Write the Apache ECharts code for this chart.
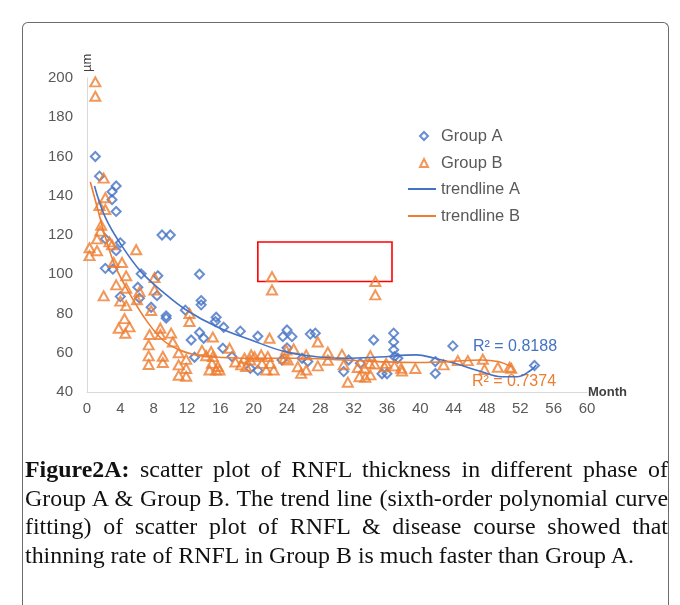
<!DOCTYPE html>
<html lang="en">
<head>
    <meta charset="UTF-8">
    <title>RNFL scatter</title>
    <style>
        html, body { margin: 0; padding: 0; background: #fff; }
        #frame { position: absolute; left: 22px; top: 22px; width: 645px; height: 600px;
                 border: 1px solid #6b6b6b; border-bottom: none; border-radius: 6px 6px 0 0; }
        #chart { position: absolute; left: 0; top: 0; width: 680px; height: 605px; }
        #caption { position: absolute; left: 25px; top: 455px; width: 643px;
                   font-family: "Liberation Serif", "DejaVu Serif", serif; font-size: 23.9px;
                   line-height: 28.7px; color: #111; }
        #caption .j { text-align: justify; text-align-last: justify; }
    </style>
</head>
<body>
<div id="frame"></div>
<div id="chart"></div>
<div id="caption">
    <div class="j"><b>Figure2A:</b> scatter plot of RNFL thickness in different phase of</div>
    <div class="j">Group A &amp; Group B. The trend line (sixth-order polynomial curve</div>
    <div class="j">fitting) of scatter plot of RNFL &amp; disease course showed that</div>
    <div>thinning rate of RNFL in Group B is much faster than Group A.</div>
</div>
<script src="https://cdn.jsdelivr.net/npm/echarts@6/dist/echarts.min.js"></script>
<script>
    // month, thickness (µm)
    var groupA = [
        [1,160],[1.5,150],[3.5,145],[3,142],[3,138],[3.5,132],[4,116],[9,120],[10,120],
        [2.2,118],[3.5,112],[2.2,103],[3.1,102.6],[6.5,100.2],[8.5,99.2],[6.1,93.4],[4,88.6],
        [6.3,87.8],[8.4,89.1],[7.7,83.2],[9.5,78.8],[9.5,77.6],[11.8,81.7],[13.5,100],
        [13.7,86.6],[13.7,84.4],[12.5,66.5],[13.5,70.3],[14,67.4],[15.5,78.1],[15.4,75.9],
        [16.4,73],[16.3,62.3],[17.4,58],[18.4,71],[12.9,57.7],[20.5,68.4],[19.6,52],[20.5,51],
        [23.5,68.2],[24,71.6],[24.6,68.2],[24,62.5],[23.4,56.3],[26.8,69.5],[27.4,70],
        [25.8,57.2],[26.5,55.5],[30.8,50.4],[31.4,56.3],[32.8,54.6],[34.4,66.5],[35.4,49.3],
        [36,49.3],[36.8,70],[36.8,65.5],[36.8,61.5],[36.9,58],[37.3,57.2],[43.9,63.5],
        [41.8,55.5],[41.8,49.4],[53.7,53.5]
    ];
    var groupB = [
        [1,198],[1,190.7],[2,149],[2.2,139],[1.5,135],[2.2,133],[1.7,125],[1.6,122],[1.2,118],
        [2.7,116.5],[3,115],[0.3,113.5],[1.2,112],[0.3,109.5],[3.2,106],[4.2,106],[5.9,112.5],
        [4.7,99.2],[3.5,94.6],[4.7,92.9],[2,89],[4,86.3],[4.7,84],[6,87],[6.3,91.2],[8.1,98.3],
        [8.1,92],[7.7,81.5],[4.5,77.4],[3.8,72.5],[5.1,73.2],[4.6,69.9],[7.5,69.3],[8.8,72.5],
        [8.8,69.3],[10.1,70],[10.3,65.5],[7.4,64],[7.4,58.4],[7.4,54],[9.1,58.2],[9.1,55],
        [11,60],[11,53.8],[11,48.5],[11.9,56.6],[11.9,52],[11.9,48],[12.3,80],[12.3,75.9],
        [13.8,61.2],[15.1,68],[14.3,58.5],[14.9,60.6],[15.1,58],[15,54.6],[14.7,51.2],
        [15.5,51.2],[15.9,51.2],[15.7,53],[17.1,62.3],[17.8,55.3],[18.9,57.2],[19.7,58.9],
        [19.6,56.3],[20.1,58],[18.5,53.8],[19.1,53],[20.9,58.9],[21,54.6],[21.5,51.2],
        [21.7,58],[22,54.6],[22.4,51.2],[21.9,67.4],[22.2,98.8],[22.2,92],[23.7,57.2],
        [24.1,56.3],[23.9,61.4],[24.8,62],[25.3,52.9],[25.7,49.5],[26.3,51.2],[26.3,58.9],
        [27.7,65.5],[27.7,53.3],[28.9,60.3],[28.9,56.2],[30.6,59.2],[30.8,53.8],[31.3,45],
        [32.5,52.5],[32.7,47.8],[33.3,52.1],[33.4,47.5],[34,48.7],[33.9,54.6],[34.5,54.3],
        [34,58.5],[34.6,96.3],[34.6,89.5],[35.7,52.9],[35.9,54.6],[36.9,53.3],[37.7,52.1],
        [37.8,50.7],[39.4,52],[42.8,53.8],[44.5,56],[45.7,56],[47.5,56.7],[47.7,51.5],
        [49.3,52.6],[50.7,52.6],[50.9,52.1]
    ];
    // trend lines
    var trendA = [
        [0.9,145],[2.2,129],[4.1,115],[6.5,101.2],[9.1,91],[11.9,81.8],[15.7,73],[19.7,66.5],
        [23.7,60.6],[27.5,58],[31,57.2],[35,57.8],[39.5,58.9],[41.7,57.2],[44.1,54.6],
        [47.3,50.4],[49.7,47.8],[51.7,47.8],[53.3,51.2],[53.9,53.8]
    ];
    var trendB = [
        [0.4,147],[1.2,134.5],[2.2,119],[3.4,104],[5.2,89.5],[7.2,76],[9.1,66.5],[11.1,61.4],
        [13.5,58.5],[15.7,57.7],[19.7,57.2],[24.9,57.2],[30.9,56.3],[34.9,55.5],[39.3,55],
        [43.3,55.5],[47.3,56.3],[49.3,55.5],[50.9,52.9]
    ];
    var highlightBox = [[20.5, 116.4], [36.6, 96.3]];
    var r2A = "R² = 0.8188";
    var r2B = "R² = 0.7374";

    var blue = "#4472C4", orange = "#ED7D31", grey = "#595959";
    var chart = echarts.init(document.getElementById("chart"));

    var hollow = "rgba(255,255,255,0)";
    var option = {
        animation: false,
        textStyle: {fontFamily: "Liberation Sans, Arial, sans-serif"},
        grid: {left: 87, right: 93, top: 78, bottom: 213},
        legend: [
            {
                orient: "vertical",
                left: 419,
                top: 127.5,
                padding: 0,
                itemWidth: 8,
                itemHeight: 8,
                itemGap: 10,
                textStyle: {color: grey, fontSize: 16.5, lineHeight: 17, padding: [0, 0, 0, 8]},
                data: [
                    {name: "Group A", icon: "diamond"},
                    {name: "Group B", icon: "triangle"}
                ]
            },
            {
                orient: "vertical",
                left: 408,
                top: 180.5,
                padding: 0,
                itemWidth: 28,
                itemHeight: 2,
                itemGap: 10,
                textStyle: {color: grey, fontSize: 16.5, lineHeight: 17},
                data: [
                    {name: "trendline A", icon: "rect"},
                    {name: "trendline B", icon: "rect"}
                ]
            }
        ],
        xAxis: {
            type: "value",
            min: 0, max: 60, interval: 4,
            name: "Month",
            nameLocation: "end",
            nameGap: 1,
            nameTextStyle: {color: "#404040", fontSize: 13, fontWeight: "bold", padding: [7, 0, 0, 0]},
            axisLine: {lineStyle: {color: "#D9D9D9", width: 1}},
            axisTick: {show: false},
            splitLine: {show: false},
            axisLabel: {color: grey, fontSize: 15, margin: 9}
        },
        yAxis: {
            type: "value",
            min: 40, max: 200, interval: 20,
            name: "µm",
            nameLocation: "end",
            nameRotate: 90,
            nameGap: 6,
            nameTextStyle: {color: "#404040", fontSize: 13},
            axisLine: {show: true, lineStyle: {color: "#D9D9D9", width: 1}},
            axisTick: {show: false},
            splitLine: {show: false},
            axisLabel: {color: grey, fontSize: 15, margin: 14}
        },
        graphic: [
            {type: "text", left: 473, top: 339, style: {text: r2A, fill: blue, font: "16px Liberation Sans"}},
            {type: "text", left: 472, top: 374, style: {text: r2B, fill: orange, font: "16px Liberation Sans"}}
        ],
        series: [
            {
                name: "Group A",
                type: "scatter",
                symbol: "diamond",
                symbolSize: 9,
                itemStyle: {color: hollow, borderColor: blue, borderWidth: 2},
                data: groupA,
                markArea: {
                    silent: true,
                    itemStyle: {color: "rgba(0,0,0,0)", borderColor: "#FF0000", borderWidth: 1.6},
                    data: [[{coord: highlightBox[0]}, {coord: highlightBox[1]}]]
                }
            },
            {
                name: "Group B",
                type: "scatter",
                symbol: "triangle",
                symbolSize: [10, 9],
                itemStyle: {color: hollow, borderColor: orange, borderWidth: 2},
                data: groupB
            },
            {
                name: "trendline A",
                type: "line",
                smooth: 0.4,
                showSymbol: false,
                symbol: "none",
                z: 5,
                lineStyle: {color: blue, width: 1.6},
                itemStyle: {color: blue},
                data: trendA
            },
            {
                name: "trendline B",
                type: "line",
                smooth: 0.4,
                showSymbol: false,
                symbol: "none",
                z: 5,
                lineStyle: {color: orange, width: 1.6},
                itemStyle: {color: orange},
                data: trendB
            }
        ]
    };
    chart.setOption(option);
</script>
</body>
</html>
